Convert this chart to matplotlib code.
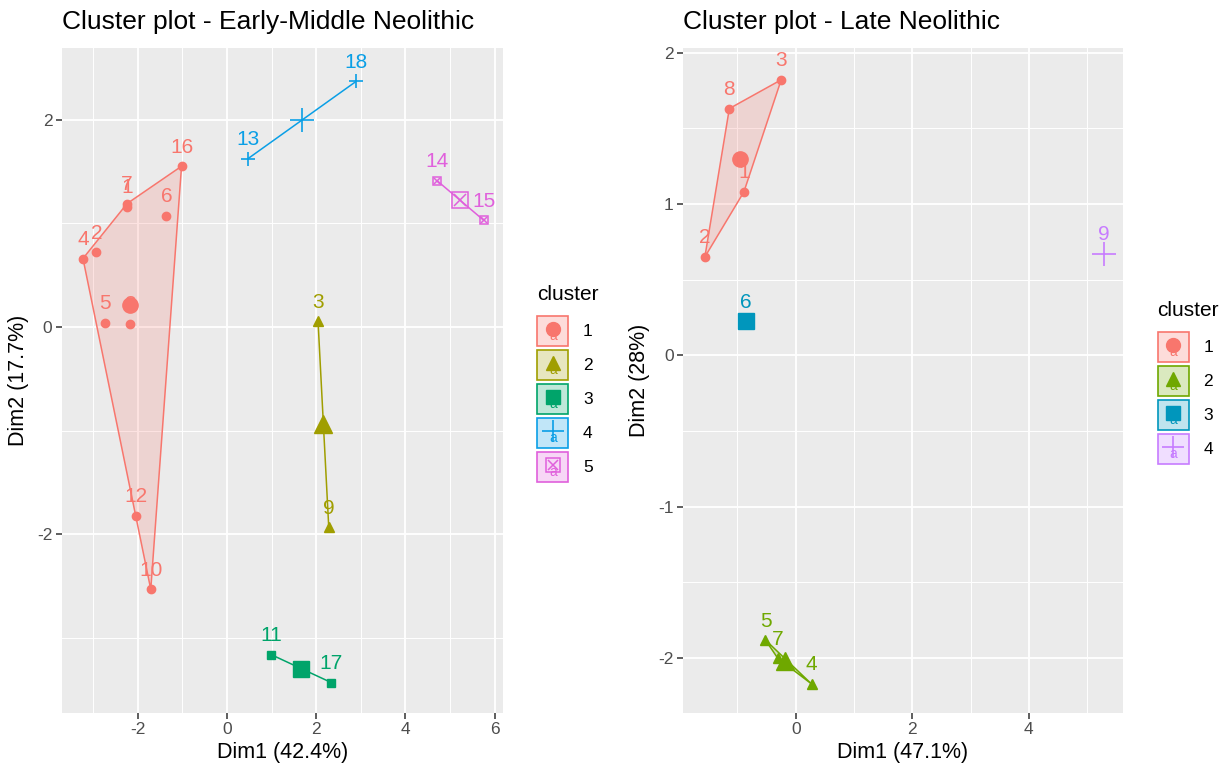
import numpy as np
import matplotlib.pyplot as plt
from matplotlib.patches import Polygon, Rectangle

plt.rcParams['font.family'] = ['Liberation Sans', 'DejaVu Sans']
plt.rcParams['axes.unicode_minus'] = False

# ---------------------------------------------------------------------------
# Données
# ---------------------------------------------------------------------------

# Early-Middle Neolithic (sites 1..18)
em_sites = ['1', '2', '3', '4', '5', '6', '7', '8', '9', '10',
            '11', '12', '13', '14', '15', '16', '17', '18']
em_dim1 = [-2.24, -2.93, 2.04, -3.23, -2.73, -1.36, -2.24, -2.18, 2.28, -1.71,
           0.99, -2.04, 0.46, 4.71, 5.75, -1.02, 2.34, 2.90]
em_dim2 = [1.16, 0.72, 0.055, 0.66, 0.04, 1.07, 1.19, 0.03, -1.93, -2.53,
           -3.16, -1.82, 1.62, 1.41, 1.03, 1.55, -3.43, 2.37]
em_cluster = [1, 1, 2, 1, 1, 1, 1, 1, 2, 1, 3, 1, 4, 5, 5, 1, 3, 4]

# Late Neolithic (sites 1..9)
ln_sites = ['1', '2', '3', '4', '5', '6', '7', '8', '9']
ln_dim1 = [-0.89, -1.56, -0.25, 0.27, -0.52, -0.86, -0.31, -1.14, 5.29]
ln_dim2 = [1.08, 0.65, 1.82, -2.17, -1.88, 0.225, -2.0, 1.63, 0.67]
ln_cluster = [1, 1, 1, 2, 2, 3, 2, 1, 4]

em_colors = ['#F8766D', '#A09E00', '#00A46A', '#0A9FE6', '#E060DC']
ln_colors = ['#F8766D', '#6FA800', '#0096BC', '#C77CFF']
shapes = ['o', '^', 's', '+', 'boxx']
small_ms = {'o': 6, '^': 7, 's': 6, '+': 10, 'boxx': 6}
big_ms = {'o': 11, '^': 13, 's': 11, '+': 17, 'boxx': 12}


# ---------------------------------------------------------------------------
# Helpers
# ---------------------------------------------------------------------------

def enveloppe(pts):
    """Enveloppe convexe (chaîne monotone)."""
    pts = sorted(set(pts))
    if len(pts) < 3:
        return pts

    def cross(o, a, b):
        return (a[0] - o[0]) * (b[1] - o[1]) - (a[1] - o[1]) * (b[0] - o[0])

    bas, haut = [], []
    for p in pts:
        while len(bas) >= 2 and cross(bas[-2], bas[-1], p) <= 0:
            bas.pop()
        bas.append(p)
    for p in reversed(pts):
        while len(haut) >= 2 and cross(haut[-2], haut[-1], p) <= 0:
            haut.pop()
        haut.append(p)
    return bas[:-1] + haut[:-1]


def marqueur(ax, x, y, shape, color, ms):
    if shape == 'boxx':
        ax.plot(x, y, 's', ms=ms, mfc='none', mec=color, mew=1.1, ls='none', zorder=4)
        ax.plot(x, y, 'x', ms=ms * 0.7, color=color, mew=1.1, ls='none', zorder=4)
    elif shape == '+':
        ax.plot(x, y, '+', ms=ms, color=color, mew=1.2, ls='none', zorder=4)
    else:
        ax.plot(x, y, shape, ms=ms, color=color, mec=color, ls='none', zorder=4)


def cluster_plot(ax, sites, d1, d2, clusters, colors, xlim, ylim, xmaj, ymaj, xmin, ymin):
    ax.set_facecolor('#EBEBEB')
    for s in ax.spines.values():
        s.set_visible(False)
    ax.set_xlim(*xlim)
    ax.set_ylim(*ylim)
    ax.set_xticks(xmaj)
    ax.set_yticks(ymaj)
    ax.set_xticks(xmin, minor=True)
    ax.set_yticks(ymin, minor=True)
    ax.grid(True, which='major', color='white', lw=1.3)
    ax.grid(True, which='minor', color='white', lw=0.7)
    ax.set_axisbelow(True)
    ax.tick_params(which='major', length=4, width=1.1, color='#333333',
                   labelcolor='#4D4D4D', labelsize=12.5, pad=3)
    ax.tick_params(which='minor', length=0)

    d1 = np.array(d1)
    d2 = np.array(d2)
    clusters = np.array(clusters)
    for k, col in enumerate(colors, start=1):
        m = clusters == k
        pts = list(zip(d1[m], d2[m]))
        shape = shapes[k - 1]
        if len(pts) >= 2:
            hull = enveloppe(pts)
            ax.add_patch(Polygon(hull, closed=True, facecolor=col, alpha=0.2,
                                 edgecolor='none', zorder=2))
            ax.add_patch(Polygon(hull, closed=True, facecolor='none',
                                 edgecolor=col, lw=1.1, zorder=3))
            for x, y in pts:
                marqueur(ax, x, y, shape, col, small_ms[shape])
        marqueur(ax, d1[m].mean(), d2[m].mean(), shape, col, big_ms[shape])
        for x, y, lab in zip(d1[m], d2[m], np.array(sites)[m]):
            ax.annotate(lab, (x, y), xytext=(0, 19), textcoords='offset pixels',
                        ha='center', va='center', color=col, fontsize=15, zorder=5)


def legende(lax, x0, y_titre, colors):
    lax.text(x0, y_titre, 'cluster', fontsize=15, va='center', ha='left')
    for i, col in enumerate(colors):
        yc = y_titre + 36 + i * 34
        lax.add_patch(Rectangle((x0, yc - 15), 31, 30, facecolor=col, alpha=0.25,
                                edgecolor='none'))
        lax.add_patch(Rectangle((x0, yc - 15), 31, 30, facecolor='none',
                                edgecolor=col, lw=1.2))
        shape = shapes[i]
        lax.text(x0 + 16, yc + 5, 'a', color=col, fontsize=10, ha='center', va='center')
        marqueur(lax, x0 + 15.5, yc - 2, shape, col, 10 if shape != '+' else 16)
        lax.text(x0 + 46, yc, str(i + 1), fontsize=12.5, va='center', ha='left')


# ---------------------------------------------------------------------------
# Figure
# ---------------------------------------------------------------------------

fig = plt.figure(figsize=(12.21, 7.67), dpi=100)
W, H = 1221, 767

ax1 = fig.add_axes([62 / W, 1 - 712.7 / H, 440.7 / W, 664.7 / H])
cluster_plot(ax1, em_sites, em_dim1, em_dim2, em_cluster, em_colors,
             (-3.70, 6.18), (-3.72, 2.69), [-2, 0, 2, 4, 6], [-2, 0, 2],
             [-3, -1, 1, 3, 5], [-3, -1, 1])
ax1.set_xlabel('Dim1 (42.4%)', fontsize=15.5, labelpad=3)
ax1.set_ylabel('Dim2 (17.7%)', fontsize=15.5, labelpad=6)

ax2 = fig.add_axes([683.3 / W, 1 - 712.7 / H, 439.4 / W, 664.7 / H])
cluster_plot(ax2, ln_sites, ln_dim1, ln_dim2, ln_cluster, ln_colors,
             (-1.93, 5.61), (-2.36, 2.03), [0, 2, 4], [-2, -1, 0, 1, 2],
             [-1, 1, 3, 5], [-1.5, -0.5, 0.5, 1.5])
ax2.set_xlabel('Dim1 (47.1%)', fontsize=15.5, labelpad=3)
ax2.set_ylabel('Dim2 (28%)', fontsize=15.5, labelpad=6)

fig.text(62 / W, 1 - 22 / H, 'Cluster plot - Early-Middle Neolithic',
         fontsize=19, ha='left', va='center')
fig.text(683 / W, 1 - 22 / H, 'Cluster plot - Late Neolithic',
         fontsize=19, ha='left', va='center')

lax = fig.add_axes([0, 0, 1, 1], zorder=10)
lax.set_xlim(0, W)
lax.set_ylim(H, 0)
lax.axis('off')
legende(lax, 537, 295, em_colors)
legende(lax, 1157.5, 311, ln_colors)

fig.savefig('out.png', dpi=100)
